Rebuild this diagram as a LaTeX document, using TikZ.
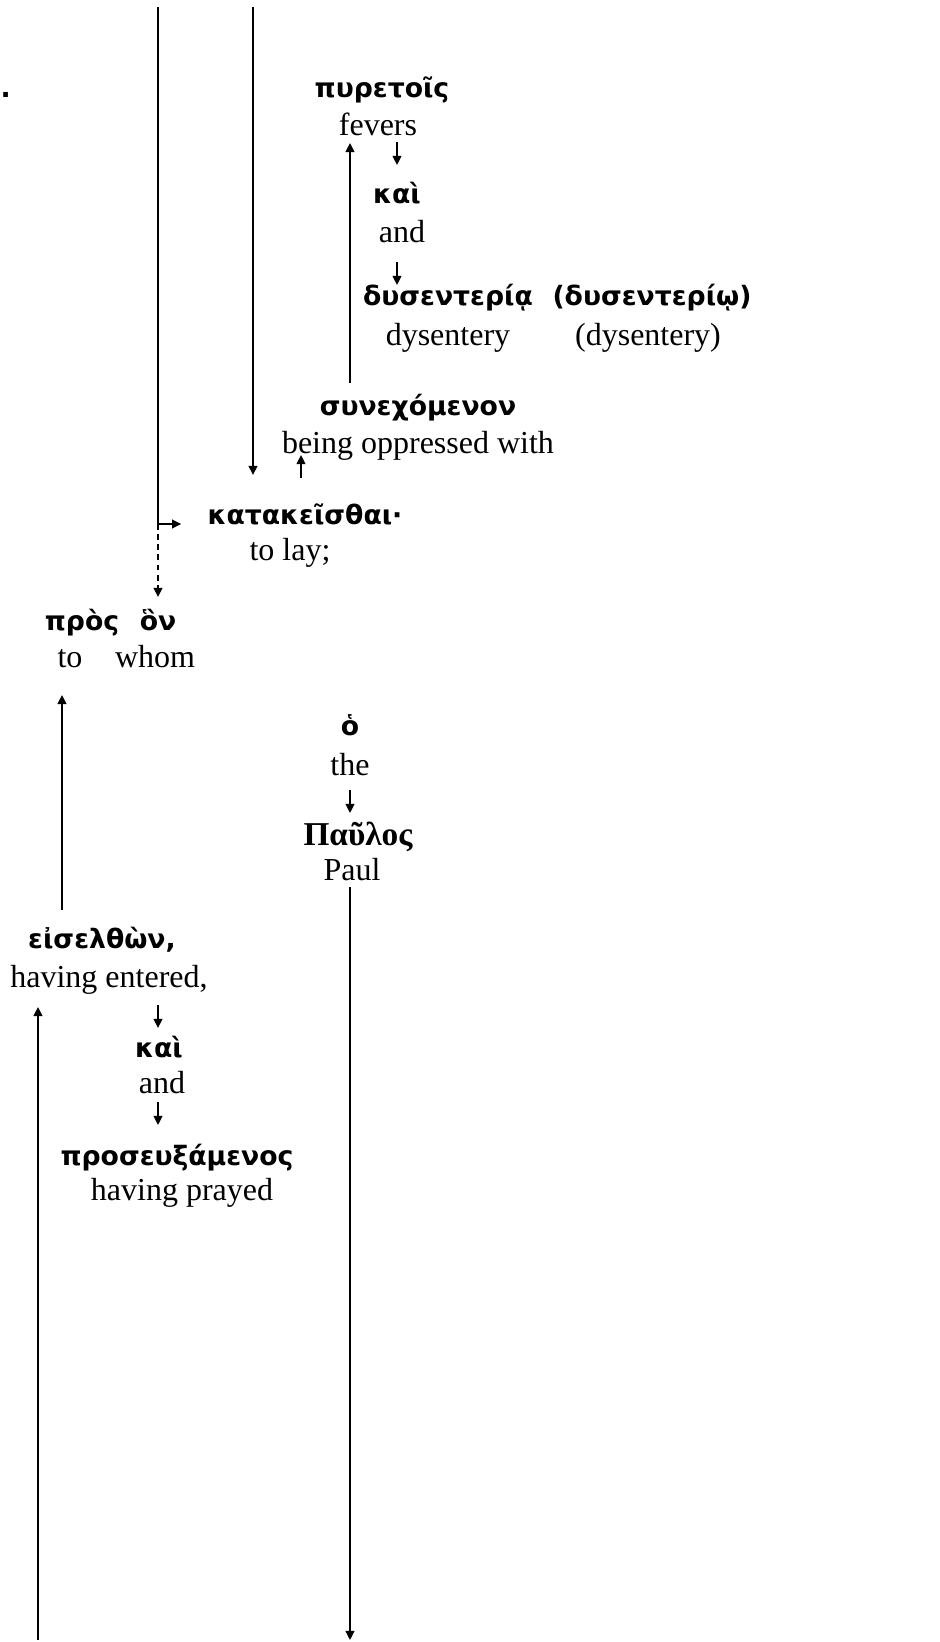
\documentclass[tikz,border=0pt]{standalone}
\usepackage{fontspec}
\setmainfont{Liberation Serif}
\newfontfamily\grk{DejaVu Sans}
\usetikzlibrary{arrows.meta}

\begin{document}
\begin{tikzpicture}[%
    x=0.375pt, y=-0.375pt,
    gk/.style={inner sep=0, anchor=base,
        font=\grk\bfseries\fontsize{10}{12}\selectfont},
    gkserif/.style={inner sep=0, anchor=base,
        font=\bfseries\fontsize{12.5}{14}\selectfont},
    en/.style={inner sep=0, anchor=base,
        font=\fontsize{12}{14}\selectfont},
    arr/.style={-{Triangle[length=3.4pt,width=3.3pt]}, line width=0.6pt},
    dashline/.style={arr, dash pattern=on 2.2pt off 1.6pt},
]

\useasboundingbox (0,0) rectangle (940,1642);

\node[gk, anchor=base west] (stop) at (0,97) {.};

\node[gk] (puretois)   at (382,97)   {πυρετοῖς};
\node[en] (fevers)     at (378,135)  {fevers};
\node[gk] (kaiA)       at (397,203)  {καὶ};
\node[en] (andA)       at (402,242)  {and};
\node[gk] (dysenteria) at (448,305)  {δυσεντερίᾳ};
\node[en] (dysentA)    at (448,345)  {dysentery};
\node[gk] (dysenterio) at (652,305)  {(δυσεντερίῳ)};
\node[en] (dysentB)    at (648,345)  {(dysentery)};
\node[gk] (synech)     at (418,415)  {συνεχόμενον};
\node[en] (oppressed)  at (418,453)  {being oppressed with};
\node[gk] (katak)      at (305,524)  {κατακεῖσθαι·};
\node[en] (tolay)      at (290,560)  {to lay;};
\node[gk] (pros)       at (82,630)   {πρὸς};
\node[en] (to)         at (70,667)   {to};
\node[gk] (hon)        at (158,630)  {ὃν};
\node[en] (whom)       at (155,667)  {whom};
\node[gk] (ho)         at (350,735)  {ὁ};
\node[en] (the)        at (350,775)  {the};
\node[gkserif] (paulos) at (358,845) {Παῦλος};
\node[en] (paul)       at (352,880)  {Paul};
\node[gk] (eiselthon)  at (102,948)  {εἰσελθὼν,};
\node[en] (entered)    at (109,987)  {having entered,};
\node[gk] (kaiB)       at (159,1057) {καὶ};
\node[en] (andB)       at (162,1093) {and};
\node[gk] (proseux)    at (177,1165) {προσευξάμενος};
\node[en] (prayed)     at (182,1200) {having prayed};

\coordinate (topL) at (158,7);
\coordinate (topM) at (253,7);
\coordinate (botL) at (38,1640);
\coordinate (botR) at (350,1640);

% lines coming in from above
\draw[arr] (topL) |- ([xshift=-9.75pt]katak.base west);
\draw[dashline] (topL |- katak.base) -- ([yshift=12.4pt]hon.base);
\draw[arr] (topM) -- ([yshift=18.4pt]topM |- katak.base);

\draw[arr] ([yshift=12pt]350,0 |- synech.base) -- ([yshift=-3pt]350,0 |- fevers.base);
\draw[arr] ([yshift=-2.6pt]kaiA.base |- fevers.base) -- ([yshift=14.25pt]kaiA.base);
\draw[arr] ([yshift=-7.5pt]kaiA.base |- andA.base) -- ([yshift=7.5pt]kaiA.base |- dysenteria.base);
\draw[arr] ([xshift=-1.5pt,yshift=17.25pt]katak.base) -- ([xshift=-1.5pt,yshift=-0.75pt]katak.base |- oppressed.base);

\draw[arr] ([xshift=-15pt,yshift=14.25pt]eiselthon.base) -- ([xshift=-15pt,yshift=-10.5pt]eiselthon.base |- to.base);
\draw[arr] ([yshift=-5.6pt]the.base) -- ([yshift=12pt]the.base |- paulos.base);
\draw[arr] ([yshift=-2.6pt]paul.base -| botR) -- (botR);

\draw[arr] (botL) -- ([yshift=-7.5pt]botL |- entered.base);
\draw[arr] ([yshift=-6.75pt]158,0 |- entered.base) -- ([yshift=10.9pt]158,0 |- kaiB.base);
\draw[arr] ([yshift=-3.4pt]158,0 |- andB.base) -- ([yshift=15pt]158,0 |- proseux.base);
\end{tikzpicture}
\end{document}
